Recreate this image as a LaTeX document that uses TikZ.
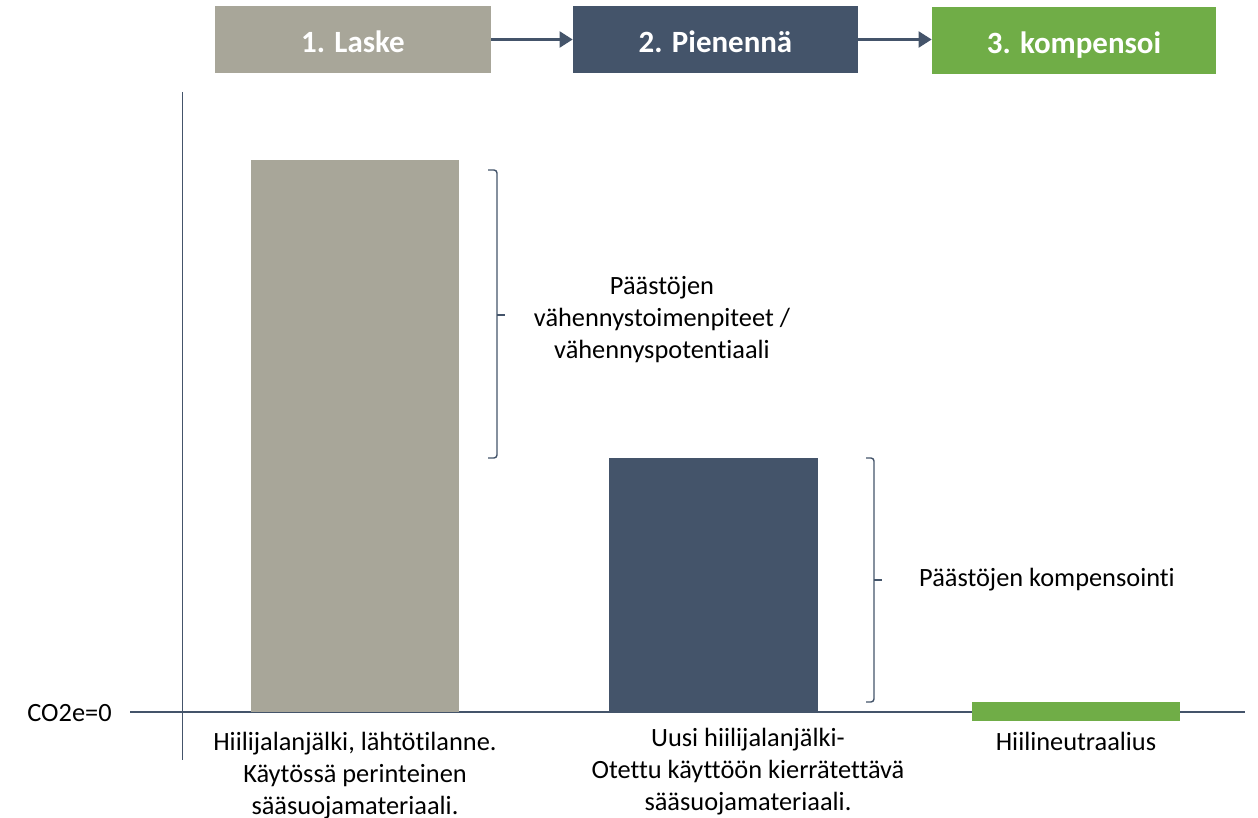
\documentclass[tikz,border=0pt]{standalone}
\usepackage{fontspec}
\setmainfont{Carlito}[Ligatures=NoCommon]
\usetikzlibrary{arrows.meta,positioning}
\definecolor{laskec}{HTML}{A8A699}
\definecolor{pienc}{HTML}{44546A}
\definecolor{kompc}{HTML}{70AD47}
\tikzset{
  stepbox/.style = {draw=none, inner sep=0pt, white, font=\fontsize{17.6}{20}\selectfont\bfseries, minimum height=13.4mm, text height=16pt, text depth=1.5pt},
  txt/.style = {align=center, inner sep=0pt, font=\fontsize{15}{18.2}\selectfont},
  flow/.style = {draw=pienc, line width=1.2pt, -{Triangle[length=2.6mm,width=3.2mm]}},
  axis/.style = {draw=pienc, line width=0.5pt},
  brace/.style = {draw=pienc, line width=0.8pt, rounded corners=0.6mm}
}

\begin{document}
\begin{tikzpicture}[x=0.2mm, y=-0.2mm]
	\useasboundingbox (0,0) rectangle (1258,818);
	% steps
	\node [stepbox, fill=laskec, minimum width=55.2mm] (laske) at (353,39.5) {1. Laske};
	\node [stepbox, fill=pienc, minimum width=57mm] (pienenna) at (715.5,39.5) {2. Pienennä};
	\node [stepbox, fill=kompc, minimum width=56.8mm] (kompensoi) at (1074,40.5) {3. kompensoi};
	\draw [flow] (laske) -- (pienenna);
	\draw [flow] (pienenna) -- (kompensoi.west |- pienenna);
	% axes
	\coordinate (ytop) at (182,92);
	\coordinate (ybot) at (182,760);
	\coordinate (xleft) at (130,712);
	\coordinate (xright) at (1245,712);
	\draw [axis] (ytop) -- (ybot);
	\draw [axis, line width=1pt] (xleft) -- (xright);
	\node [txt, anchor=east] (zero) at (112,713) {CO2e=0};
	% bars
	\fill [laskec] (251,160) rectangle (459,712);
	\fill [pienc] (609,458) rectangle (818,712);
	\fill [kompc] (972,702) rectangle (1180,721);
	% braces
	\draw [brace] (488,170) -- (497,170) -- (497,458) -- (488,458);
	\draw [brace, rounded corners=0pt] (497,315) -- (505,315);
	\draw [brace] (866,458) -- (874,458) -- (874,702) -- (866,702);
	\draw [brace, rounded corners=0pt] (874,580) -- (882,580);
	% labels
	\node [txt] (vahennys) at (662,320) {Päästöjen\\vähennystoimenpiteet /\\vähennyspotentiaali};
	\node [txt] (komp) at (1047,580) {Päästöjen kompensointi};
	\node [txt, anchor=north] (lahto) at (355,732) {Hiilijalanjälki, lähtötilanne.\\Käytössä perinteinen\\sääsuojamateriaali.};
	\node [txt, anchor=north] (uusi) at (748,728) {Uusi hiilijalanjälki-\\Otettu käyttöön kierrätettävä\\sääsuojamateriaali.};
	\node [txt, anchor=north] (neutraali) at (1076,732) {Hiilineutraalius};
\end{tikzpicture}
\end{document}
